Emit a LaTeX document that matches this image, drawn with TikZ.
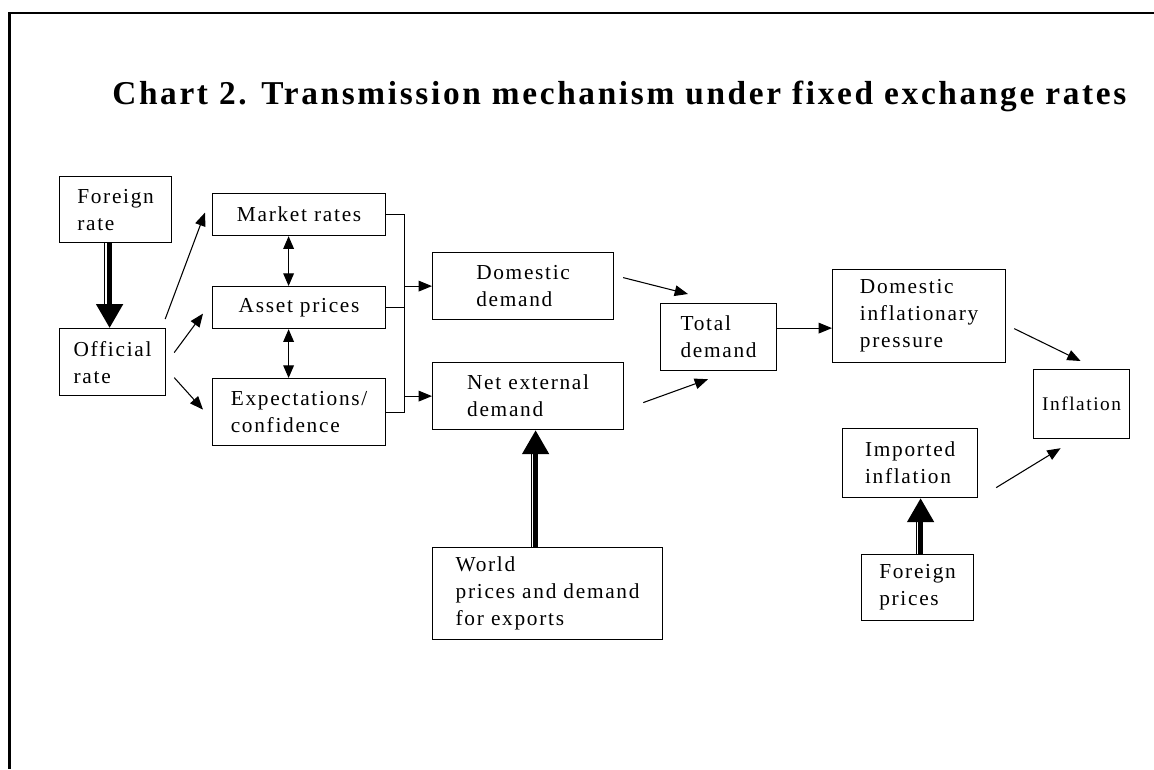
\documentclass[tikz,border=0pt]{standalone}
\usepackage{fontspec}
\setmainfont{Liberation Serif}[LetterSpace=8]
\newfontfamily\titlefont{Liberation Serif}[LetterSpace=8]
\usetikzlibrary{arrows.meta}

\begin{document}
\begin{tikzpicture}[x=0.75pt, y=-0.75pt,
    box/.style={draw, line width=0.9pt, anchor=north west, align=left,
        inner xsep=2pt, inner ysep=0pt, font=\fontsize{16}{20.25}\selectfont},
    arr/.style={line width=0.8pt, -{Triangle[length=10pt, width=8pt]}},
    darr/.style={line width=0.8pt, {Triangle[length=9.5pt, width=8pt]}-{Triangle[length=9.5pt, width=8pt]}},
    fatarr/.style={line width=3.75pt, -{Triangle[length=18pt, width=19.5pt]}},
    thinline/.style={line width=0.8pt, shorten >=17pt}]
    \useasboundingbox (0,0) rectangle (1154,769);

    % Frame and title
    \draw[line width=1.7pt] (1154,13) -| (9.5,769);
    \node[anchor=base west, inner sep=0pt, font=\titlefont\fontsize{25}{30}\selectfont\bfseries] (title) at (112,104)
        {Chart 2. Transmission mechanism under fixed exchange rates};

    % Nodes
    \node[box, minimum width=84pt, minimum height=49.5pt] (frate) at (59,176) {Foreign\\rate};
    \node[box, minimum width=79.5pt, minimum height=50.25pt] (orate) at (59,328) {Official\\rate};
    \node[box, minimum width=129.75pt, minimum height=31.5pt] (mrates) at (212,193) {Market rates};
    \node[box, minimum width=129.75pt, minimum height=31.5pt] (aprices) at (212,286) {Asset prices};
    \node[box, minimum width=129.75pt, minimum height=50.25pt] (expect) at (212,378) {Expectations/\\confidence};
    \node[box, minimum width=135.75pt, minimum height=50.25pt] (ddemand) at (432,252) {Domestic\\demand};
    \node[box, minimum width=143.25pt, minimum height=50.25pt] (nexternal) at (432,362) {Net external\\demand};
    \node[box, minimum width=87pt, minimum height=50.25pt] (tdemand) at (660,303) {Total\\demand};
    \node[box, minimum width=129.75pt, minimum height=69.75pt] (dinfl) at (832,269) {Domestic\\inflationary\\pressure};
    \node[box, minimum width=72pt, minimum height=51.75pt, font=\fontsize{14.5}{18}\selectfont] (infl) at (1033,369) {Inflation};
    \node[box, minimum width=101.25pt, minimum height=51.75pt] (iinfl) at (842,428) {Imported\\inflation};
    \node[box, minimum width=84pt, minimum height=49.5pt] (fprices) at (861,554) {Foreign\\prices};
    \node[box, minimum width=172.5pt, minimum height=69pt] (world) at (432,547) {World\\prices and demand\\for exports};

    % Arrows from the official rate
    \draw[arr] ([shift={(-1,-9)}]orate.north east) -- ([shift={(-7,-2)}]mrates.west);
    \draw[arr] ([shift={(8,-9.5)}]orate.east) -- ([shift={(-9,6)}]aprices.west);
    \draw[arr] ([shift={(8,15.5)}]orate.east) -- ([shift={(-9,-2.5)}]expect.west);
    \draw[darr] ([shift={(-10.5,0)}]mrates.south) -- ([shift={(-10.5,0)}]aprices.north);
    \draw[darr] ([shift={(-10.5,0)}]aprices.south) -- ([shift={(-10.5,0)}]expect.north);

    % Bracket into demand
    \draw[line width=0.8pt] (mrates.east) -- ++(18,0) coordinate (bus) -- (bus |- expect.east) -- (expect.east);
    \draw[line width=0.8pt] (aprices.east) -- (aprices.east -| bus);
    \draw[arr] (bus |- ddemand.west) -- (ddemand.west);
    \draw[arr] (bus |- nexternal.west) -- (nexternal.west);

    % Demand to inflation
    \draw[arr] ([shift={(9,-8.5)}]ddemand.east) -- ([shift={(28,-9)}]tdemand.north west);
    \draw[arr] ([shift={(19,6.5)}]nexternal.east) -- ([shift={(48,8)}]tdemand.south west);
    \coordinate (tout) at ([shift={(0,-9)}]tdemand.east);
    \draw[arr] (tout) -- (tout -| dinfl.west);
    \draw[arr] ([shift={(8,12.5)}]dinfl.east) -- ([shift={(-1,-8)}]infl.north);
    \draw[arr] ([shift={(18,24.5)}]iinfl.east) -- ([shift={(-21,9)}]infl.south);

    % Thick double arrows
    \coordinate (fr1) at ([shift={(-6,0)}]frate.south);
    \coordinate (fr2) at ([shift={(-11.5,0)}]frate.south);
    \draw[fatarr] (fr1) -- (fr1 |- orate.north);
    \draw[thinline] (fr2) -- (fr2 |- orate.north);

    \coordinate (wo1) at ([shift={(-12,0)}]world.north);
    \coordinate (wo2) at ([shift={(-16.5,0)}]world.north);
    \draw[fatarr] (wo1) -- (wo1 |- nexternal.south);
    \draw[thinline] (wo2) -- (wo2 |- nexternal.south);

    \coordinate (fp1) at ([shift={(3,0)}]fprices.north);
    \coordinate (fp2) at ([shift={(-1.5,0)}]fprices.north);
    \draw[fatarr] (fp1) -- (fp1 |- iinfl.south);
    \draw[thinline] (fp2) -- (fp2 |- iinfl.south);
\end{tikzpicture}
\end{document}
